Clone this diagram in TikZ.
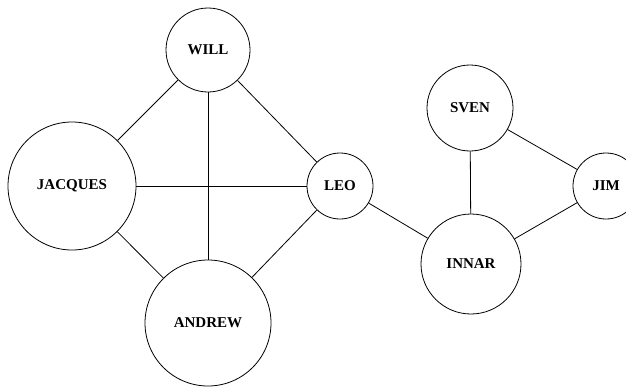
\documentclass[tikz,border=0pt]{standalone}
\usepackage{fontspec}
\setmainfont{Liberation Serif}
\begin{document}
\begin{tikzpicture}[x=1pt,y=-1pt,
  person/.style={draw, circle, inner sep=0pt, line width=0.8pt,
    font=\fontsize{15}{15}\selectfont\bfseries},
  link/.style={line width=0.8pt}]
  \useasboundingbox (0,0) rectangle (626,389);
  \clip (0,0) rectangle (626,389);
  \node[person, minimum size=84pt]  (will)    at (208,50)  {WILL};
  \node[person, minimum size=128pt] (jacques) at (72,186)  {JACQUES};
  \node[person, minimum size=126pt] (andrew)  at (208,323) {ANDREW};
  \node[person, minimum size=66pt]  (leo)     at (340,186) {LEO};
  \node[person, minimum size=86pt]  (sven)    at (470,108) {SVEN};
  \node[person, minimum size=100pt] (innar)   at (471,264) {INNAR};
  \node[person, minimum size=66pt]  (jim)     at (606,186) {JIM};
  \draw[link] (will) -- (jacques);
  \draw[link] (will) -- (leo);
  \draw[link] (will) -- (andrew);
  \draw[link] (jacques) -- (leo);
  \draw[link] (jacques) -- (andrew);
  \draw[link] (andrew) -- (leo);
  \draw[link] (leo) -- (innar);
  \draw[link] (sven) -- (innar);
  \draw[link] (sven) -- (jim);
  \draw[link] (innar) -- (jim);
\end{tikzpicture}
\end{document}
